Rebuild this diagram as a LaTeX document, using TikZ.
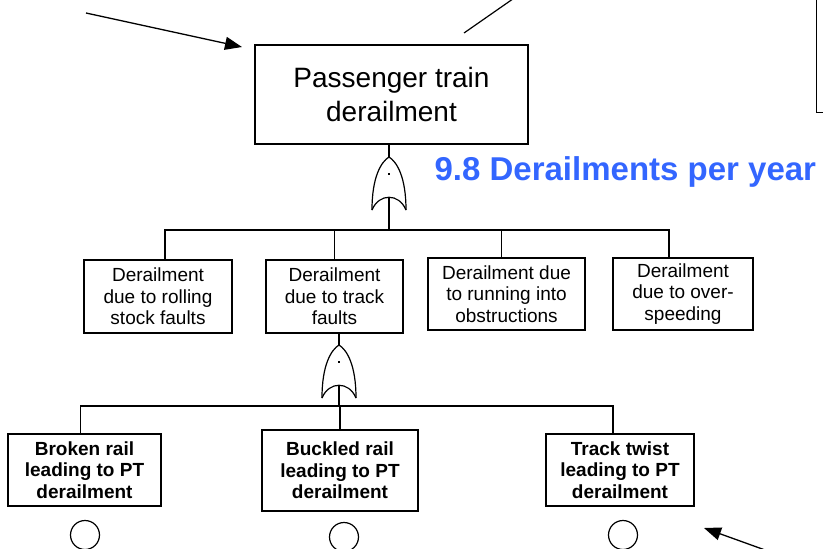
\documentclass[tikz,border=0pt]{standalone}
\usepackage{fontspec}
\setmainfont{Liberation Sans}
\usetikzlibrary{arrows.meta,positioning}
\definecolor{rateblue}{RGB}{51,102,255}
\tikzset{
	event/.style={draw, align=center, inner sep=0pt},
	topevent/.style={event, minimum width=273pt, minimum height=99pt, font=\fontsize{28}{34}\selectfont},
	midevent/.style={event, minimum height=73pt, font=\fontsize{19}{21.5}\selectfont},
	basicevent/.style={event, minimum height=72pt, font=\fontsize{19}{21.5}\selectfont\bfseries},
	basiccircle/.style={draw, circle, minimum size=29pt, inner sep=0pt},
	pointer/.style={-{Triangle[length=17pt,width=13pt]}, line width=1.3pt},
	orgate/.pic={
		\draw (-17,53) .. controls (-17,20) and (-8,5) .. (0,0)
		.. controls (8,5) and (17,20) .. (17,53);
		\draw (-17,53) .. controls (-10,36) and (10,36) .. (17,53);
		\fill (-1,16) rectangle (1,18);
		\coordinate (-in) at (0,0);
		\coordinate (-out) at (0,40);
	}
}
\begin{document}
\begin{tikzpicture}[x=1pt,y=-1pt,line width=1.2pt]
		\useasboundingbox (0,0) rectangle (823,549);
		\clip (0,0) rectangle (823,549);
		%draw top event and rate
		\node[topevent] (top) at (391.5,94.5) {Passenger train\\derailment};
		\node[font=\fontsize{33}{40}\selectfont\bfseries, text=rateblue,
		anchor=base west, inner sep=0pt] (rate) at (434,180) {9.8 Derailments per year};
		\node[draw, minimum width=40pt, minimum height=140pt, anchor=south west] (note) at (816,113) {};
		%draw intermediate events
		\node[midevent, minimum width=148pt] (m1) at (158,296.5) {Derailment\\due to rolling\\stock faults};
		\node[midevent, minimum width=137pt] (m2) at (334.5,296.5) {Derailment\\due to track\\faults};
		\node[midevent, minimum width=157pt, minimum height=72pt] (m3) at (506.5,294) {Derailment due\\to running into\\obstructions};
		\node[midevent, minimum width=140pt, minimum height=72pt] (m4) at (683,294) {Derailment\\due to over-\\speeding};
		%draw basic events
		\node[basicevent, minimum width=153pt] (b1) at (84.5,470) {Broken rail\\leading to PT\\derailment};
		\node[basicevent, minimum width=156pt, minimum height=81pt] (b2) at (340,470.5) {Buckled rail\\leading to PT\\derailment};
		\node[basicevent, minimum width=148pt] (b3) at (620,470) {Track twist\\leading to PT\\derailment};
		\node[basiccircle] (c1) at (85,535) {};
		\node[basiccircle] (c2) at (344,537) {};
		\node[basiccircle] (c3) at (623,535) {};
		%draw gates
		\pic (g1) at (389,157) {orgate};
		\pic (g2) at (339,345) {orgate};
		\draw (top.south -| g1-in) -- (g1-in);
		\foreach \n/\dx in {m1/7,m2/0,m3/-5,m4/-14}
		\draw (g1-out) -- ++(0,33) -| ([xshift=\dx pt]\n.north);
		\draw (m2.south -| g2-in) -- (g2-in);
		\foreach \n/\dx in {b1/-4,b2/0,b3/-7}
		\draw (g2-out) -- ++(0,21) -| ([xshift=\dx pt]\n.north);
		%draw arrows
		\coordinate (tailA) at (86,13);
		\coordinate (tipA) at (242,47);
		\coordinate (tailB) at (520,-6);
		\coordinate (endB) at (464,33);
		\coordinate (tailC) at (790,559);
		\coordinate (tipC) at (704,528);
		\draw[pointer] (tailA) -- (tipA);
		\draw (tailB) -- (endB);
		\draw[pointer] (tailC) -- (tipC);
		
	\end{tikzpicture}
\end{document}
